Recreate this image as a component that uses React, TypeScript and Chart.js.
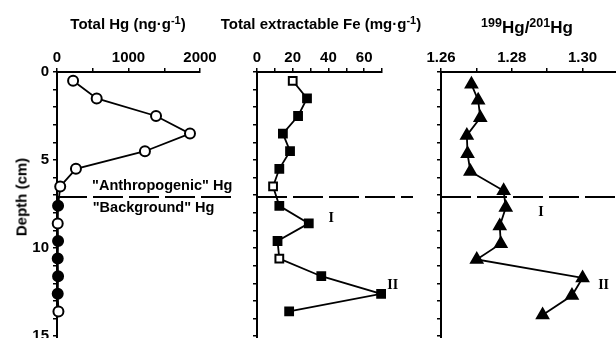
import React, { useEffect, useRef } from 'react';
import { Chart, registerables } from 'chart.js';

Chart.register(...registerables);

// ---- data ----
const depths = [0.5, 1.5, 2.5, 3.5, 4.5, 5.5, 6.5, 7.6, 8.6, 9.6, 10.6, 11.6, 12.6, 13.6];
const totalHg = [225, 555, 1385, 1860, 1230, 265, 45, 15, 10, 15, 10, 15, 10, 20];
const hgOpen = [true, true, true, true, true, true, true, false, true, false, false, false, false, true];
const totalFe = [20, 28, 23, 14.5, 18.5, 12.5, 9, 12.5, 29, 11.5, 12.5, 36, 69.5, 18];
const feOpen = [true, false, false, false, false, false, true, false, false, false, true, false, false, false];
const ratioDepths = [0.7, 1.6, 2.6, 3.6, 4.65, 5.65, 6.75, 7.7, 8.75, 9.75, 10.65, 11.7, 12.7, 13.8];
const hgRatio = [1.2686, 1.2705, 1.2711, 1.2673, 1.2675, 1.2683, 1.2777, 1.2783, 1.2766, 1.2769, 1.2701, 1.3, 1.297, 1.2887];

const boundaryDepth = 7.1;
const depthMax = 15.11;
const depthLabelTicks = [0, 5, 10, 15];
const hgLabelTicks = [0, 1000, 2000];
const feLabelTicks = [0, 20, 40, 60];
const ratioLabelTicks = [1.26, 1.28, 1.3];

const FONT = "'Liberation Sans', Arial, Helvetica, sans-serif";
const SERIF = "'Liberation Serif', 'Times New Roman', serif";

type Label = { text: string; x: number; y: number; font: string };

function makePlugin(endInset: number, labels: Label[]) {
  return {
    id: 'boundaryAndLabels',
    beforeDatasetsDraw(chart: any) {
      const { ctx, chartArea, scales } = chart;
      const y = scales.y.getPixelForValue(boundaryDepth);
      ctx.save();
      ctx.strokeStyle = '#000';
      ctx.lineWidth = 2;
      ctx.setLineDash([30, 6]);
      ctx.beginPath();
      ctx.moveTo(chartArea.left, y);
      ctx.lineTo(chart.width - endInset, y);
      ctx.stroke();
      ctx.restore();
    },
    afterDatasetsDraw(chart: any) {
      const { ctx, scales } = chart;
      ctx.save();
      ctx.fillStyle = '#000';
      ctx.textAlign = 'left';
      ctx.textBaseline = 'middle';
      for (const l of labels) {
        ctx.font = l.font;
        ctx.fillText(l.text, scales.x.getPixelForValue(l.x), scales.y.getPixelForValue(l.y));
      }
      ctx.restore();
    },
  };
}

function makeConfig(opts: {
  data: { x: number; y: number }[];
  pointStyle: string;
  radius: number;
  bg: string[];
  xMin: number;
  xMax: number;
  xStep: number;
  xLabels: number[];
  xDecimals: number;
  yWidth: number;
  yLabels: boolean;
  padRight: number;
  plugin: any;
}) {
  const tickFont = { family: FONT, size: 15, weight: 'bold' as const };
  return {
    type: 'line' as const,
    data: {
      datasets: [
        {
          data: opts.data,
          borderColor: '#000',
          borderWidth: 1.8,
          pointStyle: opts.pointStyle,
          pointRadius: opts.radius,
          pointBorderWidth: 2,
          pointBorderColor: '#000',
          pointBackgroundColor: opts.bg,
          tension: 0,
          clip: false,
        },
      ],
    },
    options: {
      animation: false,
      responsive: false,
      devicePixelRatio: 1,
      parsing: false,
      layout: { autoPadding: false, padding: { left: 0, top: 0, right: opts.padRight, bottom: 0 } },
      plugins: { legend: { display: false }, tooltip: { enabled: false } },
      scales: {
        x: {
          type: 'linear',
          position: 'top',
          min: opts.xMin,
          max: opts.xMax,
          afterFit: (s: any) => {
            s.height = 72;
            s.paddingLeft = 0;
            s.paddingRight = 0;
          },
          border: { display: true, color: '#000', width: 2 },
          grid: { drawOnChartArea: false, drawTicks: true, tickLength: 4, color: '#000', lineWidth: 1.5 },
          ticks: {
            stepSize: opts.xStep,
            includeBounds: false,
            autoSkip: false,
            maxRotation: 0,
            padding: 1,
            color: '#000',
            font: tickFont,
            callback: (v: number) => {
              const hit = opts.xLabels.find((t) => Math.abs(t - v) < 1e-6);
              return hit === undefined ? '' : hit.toFixed(opts.xDecimals);
            },
          },
        },
        y: {
          type: 'linear',
          reverse: true,
          min: 0,
          max: depthMax,
          afterFit: (s: any) => {
            s.width = opts.yWidth;
            s.paddingTop = 0;
            s.paddingBottom = 0;
          },
          border: { display: true, color: '#000', width: 2 },
          grid: { drawOnChartArea: false, drawTicks: true, tickLength: 4, color: '#000', lineWidth: 1.5 },
          ticks: {
            stepSize: 1,
            includeBounds: false,
            autoSkip: false,
            padding: 4,
            color: '#000',
            font: tickFont,
            callback: (v: number) => (opts.yLabels && depthLabelTicks.includes(v) ? String(v) : ''),
          },
        },
      },
    },
    plugins: [opts.plugin],
  };
}

function Panel(props: { left: number; width: number; config: () => any }) {
  const ref = useRef<HTMLCanvasElement | null>(null);
  useEffect(() => {
    if (!ref.current) return;
    const chart = new Chart(ref.current, props.config() as any);
    return () => chart.destroy();
  }, []);
  return (
    <canvas
      ref={ref}
      width={props.width}
      height={338}
      style={{ position: 'absolute', left: props.left, top: 0, width: props.width, height: 338 }}
    />
  );
}

const labelFont = `bold 14.5px ${FONT}`;
const romanFont = `bold 14px ${SERIF}`;

export default function App() {
  const hgConfig = () =>
    makeConfig({
      data: depths.map((d, i) => ({ x: totalHg[i], y: d })),
      pointStyle: 'circle',
      radius: 5,
      bg: hgOpen.map((o) => (o ? '#fff' : '#000')),
      xMin: 0,
      xMax: 2000,
      xStep: 500,
      xLabels: hgLabelTicks,
      xDecimals: 0,
      yWidth: 57,
      yLabels: true,
      padRight: 40,
      plugin: makePlugin(3, [
        { text: '"Anthropogenic" Hg', x: 490, y: 6.5, font: labelFont },
        { text: '"Background" Hg', x: 500, y: 7.75, font: labelFont },
      ]),
    });
  const feConfig = () =>
    makeConfig({
      data: depths.map((d, i) => ({ x: totalFe[i], y: d })),
      pointStyle: 'rect',
      radius: 5.5,
      bg: feOpen.map((o) => (o ? '#fff' : '#000')),
      xMin: 0,
      xMax: 70,
      xStep: 10,
      xLabels: feLabelTicks,
      xDecimals: 0,
      yWidth: 17,
      yLabels: false,
      padRight: 38,
      plugin: makePlugin(7, [
        { text: 'I', x: 40, y: 8.3, font: romanFont },
        { text: 'II', x: 73, y: 12.1, font: romanFont },
      ]),
    });
  const ratioConfig = () =>
    makeConfig({
      data: ratioDepths.map((d, i) => ({ x: hgRatio[i], y: d })),
      pointStyle: 'triangle',
      radius: 6.5,
      bg: hgRatio.map(() => '#000'),
      xMin: 1.26,
      xMax: 1.30944,
      xStep: 0.01,
      xLabels: ratioLabelTicks,
      xDecimals: 2,
      yWidth: 21,
      yLabels: false,
      padRight: 0,
      plugin: makePlugin(0, [
        { text: 'I', x: 1.2875, y: 7.95, font: romanFont },
        { text: 'II', x: 1.3044, y: 12.1, font: romanFont },
      ]),
    });

  const titleStyle = (cx: number, cy: number, size = 15): React.CSSProperties => ({
    position: 'absolute',
    left: cx,
    top: cy,
    transform: 'translate(-50%, -50%)',
    whiteSpace: 'nowrap',
    font: `bold ${size}px ${FONT}`,
    color: '#000',
    lineHeight: 1,
  });
  const supStyle: React.CSSProperties = { fontSize: '11px', verticalAlign: '5px', lineHeight: 0 };
  const supStyleBig: React.CSSProperties = { fontSize: '12.5px', verticalAlign: '6px', lineHeight: 0 };

  return (
    <div
      style={{
        position: 'fixed',
        left: 0,
        top: 0,
        width: 616,
        height: 338,
        background: '#fff',
        overflow: 'hidden',
      }}
    >
      <Panel left={0} width={240} config={hgConfig} />
      <Panel left={240} width={180} config={feConfig} />
      <Panel left={420} width={196} config={ratioConfig} />
      <div style={titleStyle(128, 23)}>
        Total Hg (ng·g<span style={supStyle}>-1</span>)
      </div>
      <div style={titleStyle(321, 23)}>
        Total extractable Fe (mg·g<span style={supStyle}>-1</span>)
      </div>
      <div style={titleStyle(527, 27, 17)}>
        <span style={supStyleBig}>199</span>Hg/<span style={supStyleBig}>201</span>Hg
      </div>
      <div
        style={{
          ...titleStyle(21, 197),
          transform: 'translate(-50%, -50%) rotate(-90deg)',
        }}
      >
        Depth (cm)
      </div>
    </div>
  );
}
